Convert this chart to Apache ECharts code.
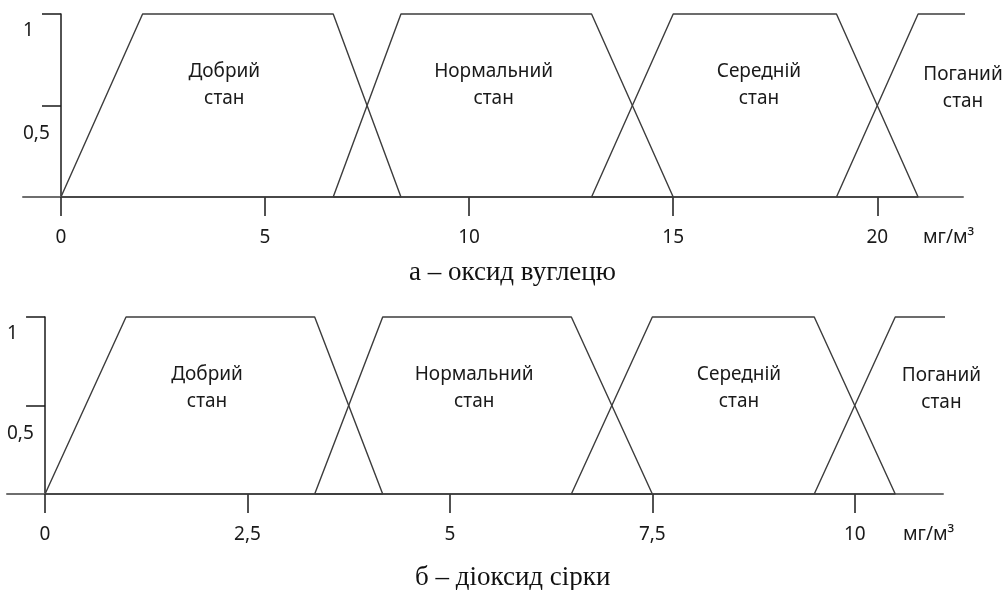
<!DOCTYPE html>
<html lang="uk">
<head>
<meta charset="UTF-8">
<title>Функції належності</title>
<script src="https://cdn.jsdelivr.net/npm/echarts@6/dist/echarts.min.js"></script>
<style>html,body{margin:0;padding:0;background:#fff}</style>
</head>
<body>
<div id="chart" style="width:1005px;height:590px"></div>
<script type="text/javascript">
// терми
var stateNames = ['Добрий\nстан', 'Нормальний\nстан', 'Середній\nстан', 'Поганий\nстан'];

// а - оксид вуглецю (мг/м3): вершини трапецій [x, ступінь належності]
var coGood   = [[0, 0], [2, 1], [6.67, 1], [8.33, 0], [0, 0]];
var coNormal = [[6.67, 0], [8.33, 1], [13, 1], [15, 0], [6.67, 0]];
var coMedium = [[13, 0], [15, 1], [19, 1], [21, 0], [13, 0]];
var coBad    = [[19, 0], [21, 1], [22.4, 1]];
var coTicks  = [0, 5, 10, 15, 20];
var coNameAt = [[4.0, 0.61], [10.6, 0.61], [17.1, 0.61], [22.1, 0.595]];

// б - діоксид сірки (мг/м3)
var soGood   = [[0, 0], [1, 1], [3.33, 1], [4.17, 0], [0, 0]];
var soNormal = [[3.33, 0], [4.17, 1], [6.5, 1], [7.5, 0], [3.33, 0]];
var soMedium = [[6.5, 0], [7.5, 1], [9.5, 1], [10.5, 0], [6.5, 0]];
var soBad    = [[9.5, 0], [10.5, 1], [11.2, 1]];
var soTicks  = [0, 2.5, 5, 7.5, 10];
var soNameAt = [[2.0, 0.6], [5.3, 0.6], [8.57, 0.6], [11.07, 0.59]];

var yTicks = [0.5, 1];
var unit = 'мг/м³';
var captions = ['а – оксид вуглецю', 'б – діоксид сірки'];

var myChart = echarts.init(document.getElementById('chart'), null, {renderer: 'canvas'});
var font = 'Noto Sans';
var ink = '#1a1a1a';

function comma(v) { return String(v).replace('.', ','); }

function xAx(gi, min, max, ticks) {
    return {
        gridIndex: gi, type: 'value', min: min, max: max,
        name: unit, nameLocation: 'end', nameGap: -40,
        nameTextStyle: {fontFamily: font, fontSize: 19, color: ink, align: 'left', verticalAlign: 'top', padding: [31, 0, 0, 0]},
        axisLine: {show: true, onZero: false, lineStyle: {color: '#6e6e6e', width: 2}},
        axisTick: {show: true, length: 19, customValues: ticks, lineStyle: {color: ink, width: 1.5}},
        axisLabel: {customValues: ticks, margin: 31, fontFamily: font, fontSize: 19, color: ink, formatter: comma},
        splitLine: {show: false}
    };
}

function yAx(gi) {
    return {
        gridIndex: gi, type: 'value', min: 0, max: 1,
        axisLine: {show: true, onZero: true, lineStyle: {color: ink, width: 1.5}},
        axisTick: {show: true, length: 19, customValues: yTicks, lineStyle: {color: ink, width: 1.5}},
        axisLabel: {
            customValues: yTicks, align: 'left', margin: 0, fontFamily: font, fontSize: 19, color: ink,
            formatter: function (v) { return v === 1 ? '{a|1}' : '{b|' + comma(v) + '}'; },
            rich: {a: {padding: [34, 0, 0, 0]}, b: {padding: [57, 0, 0, 0]}}
        },
        splitLine: {show: false}
    };
}

function trap(gi, data) {
    return {
        type: 'line', xAxisIndex: gi, yAxisIndex: gi, data: data, symbol: 'none',
        clip: false, silent: true, lineStyle: {color: '#3c3c3c', width: 1.4}
    };
}

function names(gi, at) {
    return {
        type: 'scatter', xAxisIndex: gi, yAxisIndex: gi, symbolSize: 1, silent: true,
        itemStyle: {color: 'rgba(0,0,0,0)'},
        data: at.map(function (p, i) { return {value: p, name: stateNames[i]}; }),
        label: {
            show: true, position: 'inside', formatter: '{b}', fontFamily: font, fontSize: 19, lineHeight: 27,
            color: ink, textBorderWidth: 0, opacity: 1
        }
    };
}

var capStyle = {fontFamily: 'Liberation Serif', fontWeight: 'normal', fontSize: 27, color: '#111'};

myChart.setOption({
    backgroundColor: '#fff',
    animation: false,
    title: [
        {text: captions[0], left: 409, top: 259, textStyle: capStyle, padding: 0},
        {text: captions[1], left: 415, top: 564, textStyle: capStyle, padding: 0}
    ],
    grid: [
        {left: 23, right: 42, top: 14, bottom: 393, outerBoundsMode: 'none'},   // верхній графік
        {left: 7, right: 62, top: 317, bottom: 96, outerBoundsMode: 'none'}     // нижній графік
    ],
    xAxis: [xAx(0, -0.93, 22.1, coTicks), xAx(1, -0.47, 11.09, soTicks)],
    yAxis: [yAx(0), yAx(1)],
    series: [
        trap(0, coGood), trap(0, coNormal), trap(0, coMedium), trap(0, coBad), names(0, coNameAt),
        trap(1, soGood), trap(1, soNormal), trap(1, soMedium), trap(1, soBad), names(1, soNameAt)
    ]
});
</script>
</body>
</html>
